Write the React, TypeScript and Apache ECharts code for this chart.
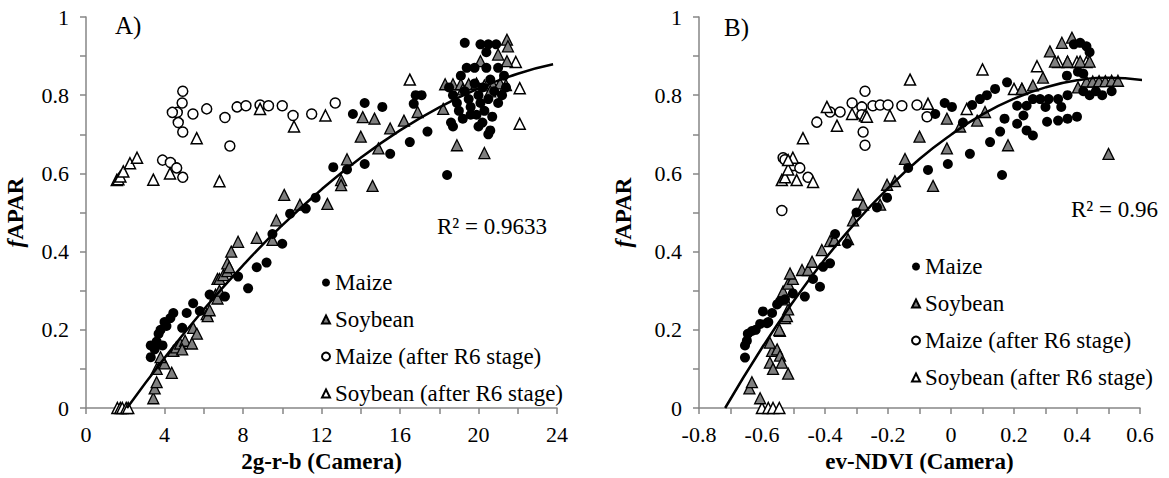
import React, { useEffect, useRef } from "react";
import * as echarts from "echarts";

const FONT = "'Liberation Serif', 'Times New Roman', serif";

// ---- Panel A: 2g-r-b (Camera) ----
const leftMaize: number[][] = [
  [3.3, 0.16], [3.3, 0.13], [3.5, 0.15], [3.6, 0.17], [3.7, 0.19], [3.8, 0.2], [3.9, 0.16], [4.0, 0.22],
  [4.1, 0.21], [4.3, 0.23], [4.45, 0.243], [4.9, 0.205], [5.13, 0.243], [5.46, 0.268], [5.8, 0.248],
  [6.3, 0.29], [7.08, 0.285], [7.75, 0.336], [8.26, 0.306], [8.7, 0.36], [9.2, 0.372], [9.5, 0.445],
  [10.0, 0.42], [10.4, 0.497], [11.2, 0.51], [11.7, 0.538], [12.6, 0.616], [13.3, 0.61], [14.2, 0.624],
  [15.5, 0.65], [16.5, 0.68], [13.6, 0.752], [14.2, 0.78], [15.1, 0.77], [16.7, 0.778], [16.8, 0.8],
  [17.1, 0.8], [17.4, 0.707], [18.4, 0.596], [18.6, 0.73], [18.7, 0.72], [18.5, 0.82], [18.7, 0.8],
  [18.9, 0.78], [19.0, 0.76], [19.2, 0.74], [19.3, 0.81], [19.5, 0.79], [19.6, 0.77], [19.8, 0.83],
  [19.9, 0.75], [20.0, 0.8], [20.1, 0.78], [20.2, 0.82], [20.3, 0.76], [20.5, 0.79], [20.6, 0.84],
  [20.8, 0.81], [21.0, 0.78], [21.2, 0.8], [21.4, 0.82], [19.4, 0.87], [19.8, 0.87], [20.4, 0.87],
  [21.0, 0.87], [20.4, 0.91], [19.3, 0.934], [20.1, 0.93], [20.5, 0.93], [20.9, 0.93], [20.2, 0.73],
  [20.7, 0.745], [20.5, 0.7], [20.6, 0.71], [19.1, 0.85], [21.3, 0.85], [20.0, 0.72], [19.6, 0.75],
];
const leftSoy: number[][] = [
  [3.43, 0.025], [3.5, 0.05], [3.6, 0.066], [3.6, 0.1], [3.86, 0.117], [4.0, 0.114], [4.37, 0.09],
  [4.45, 0.146], [4.6, 0.155], [4.8, 0.165], [5.05, 0.172], [5.4, 0.165], [5.46, 0.205], [5.65, 0.19],
  [6.15, 0.24], [6.2, 0.235], [6.3, 0.25], [6.6, 0.29], [6.7, 0.28], [6.8, 0.3], [6.7, 0.33], [6.8, 0.33],
  [7.0, 0.34], [7.2, 0.35], [7.2, 0.37], [7.3, 0.36], [7.4, 0.4], [7.75, 0.425], [8.7, 0.435], [9.5, 0.43],
  [9.7, 0.48], [10.1, 0.545], [10.9, 0.52], [12.3, 0.522], [13.0, 0.583], [13.0, 0.57], [13.3, 0.636],
  [14.6, 0.568], [14.0, 0.694], [14.9, 0.664], [14.1, 0.744], [14.7, 0.74], [15.5, 0.715], [16.2, 0.735],
  [16.9, 0.757], [18.2, 0.765], [18.9, 0.672], [20.3, 0.652], [18.3, 0.828], [18.7, 0.828], [19.1, 0.828],
  [19.5, 0.828], [19.9, 0.83], [20.3, 0.825], [20.7, 0.83], [21.1, 0.83], [21.4, 0.826], [20.1, 0.887],
  [21.0, 0.904], [21.45, 0.942], [21.5, 0.925], [21.45, 0.887], [19.2, 0.815], [20.6, 0.81], [3.8, 0.13],
  [4.9, 0.15],
];
const leftMaizeR6: number[][] = [
  [4.93, 0.81], [4.9, 0.78], [4.65, 0.756], [4.4, 0.756], [4.7, 0.73], [4.93, 0.706], [5.45, 0.752],
  [6.15, 0.765], [7.08, 0.743], [7.33, 0.67], [7.7, 0.77], [8.15, 0.773], [8.87, 0.775], [9.3, 0.773],
  [10.0, 0.773], [10.55, 0.748], [11.5, 0.752], [12.7, 0.78], [3.9, 0.634], [4.3, 0.628], [4.62, 0.614],
  [4.93, 0.59],
];
const leftSoyR6: number[][] = [
  [1.57, 0.583], [1.65, 0.585], [1.75, 0.592], [1.9, 0.605], [2.24, 0.626], [2.6, 0.64], [3.43, 0.584],
  [4.28, 0.6], [5.64, 0.69], [6.8, 0.58], [8.87, 0.765], [10.6, 0.72], [12.2, 0.748], [16.5, 0.84],
  [22.1, 0.727], [22.1, 0.818], [21.9, 0.885], [1.6, 0], [1.75, 0], [1.85, 0], [2.05, 0], [2.15, 0],
];
const leftTrend: number[][] = [
  [2.09, 0], [4, 0.128], [6, 0.252], [8, 0.365], [10, 0.4675], [12, 0.559], [14, 0.64], [16, 0.71],
  [18, 0.769], [20, 0.817], [22, 0.855], [23.8, 0.879],
];

// ---- Panel B: ev-NDVI (Camera) ----
const rightMaize: number[][] = [
  [-0.654, 0.16], [-0.654, 0.129], [-0.648, 0.172], [-0.645, 0.19], [-0.632, 0.197], [-0.62, 0.2],
  [-0.606, 0.215], [-0.597, 0.247], [-0.584, 0.217], [-0.58, 0.22], [-0.568, 0.243], [-0.552, 0.265],
  [-0.543, 0.273], [-0.527, 0.278], [-0.502, 0.293], [-0.464, 0.285], [-0.438, 0.33], [-0.416, 0.31],
  [-0.406, 0.361], [-0.384, 0.37], [-0.368, 0.445], [-0.33, 0.42], [-0.3, 0.5], [-0.235, 0.513],
  [-0.203, 0.538], [-0.136, 0.614], [-0.073, 0.609], [-0.01, 0.624], [0.06, 0.65], [0.124, 0.68],
  [0.156, 0.707], [0.162, 0.596], [-0.05, 0.752], [-0.02, 0.78], [0.003, 0.77], [0.038, 0.73],
  [0.067, 0.775], [0.092, 0.79], [0.114, 0.8], [0.14, 0.816], [0.178, 0.833], [0.17, 0.74], [0.21, 0.727],
  [0.23, 0.748], [0.24, 0.71], [0.26, 0.697], [0.305, 0.732], [0.34, 0.735], [0.37, 0.74], [0.4, 0.745],
  [0.21, 0.773], [0.24, 0.773], [0.26, 0.79], [0.283, 0.79], [0.31, 0.79], [0.34, 0.79], [0.37, 0.8],
  [0.3, 0.77], [0.35, 0.77], [0.42, 0.81], [0.44, 0.8], [0.46, 0.81], [0.48, 0.8], [0.51, 0.81],
  [0.368, 0.85], [0.403, 0.86], [0.42, 0.855], [0.41, 0.934], [0.43, 0.925], [0.44, 0.91], [0.39, 0.93],
];
const rightSoy: number[][] = [
  [-0.64, 0.05], [-0.632, 0.066], [-0.606, 0.025], [-0.575, 0.116], [-0.568, 0.146], [-0.552, 0.15],
  [-0.543, 0.134], [-0.537, 0.116], [-0.565, 0.1], [-0.517, 0.088], [-0.575, 0.167], [-0.543, 0.197],
  [-0.545, 0.2], [-0.527, 0.23], [-0.521, 0.235], [-0.517, 0.252], [-0.527, 0.278], [-0.533, 0.298],
  [-0.517, 0.318], [-0.502, 0.33], [-0.511, 0.344], [-0.473, 0.353], [-0.454, 0.353], [-0.441, 0.374],
  [-0.41, 0.404], [-0.384, 0.427], [-0.37, 0.43], [-0.327, 0.432], [-0.311, 0.48], [-0.295, 0.546],
  [-0.279, 0.52], [-0.225, 0.52], [-0.203, 0.571], [-0.178, 0.58], [-0.146, 0.637], [-0.1, 0.694],
  [-0.057, 0.568], [-0.013, 0.664], [-0.013, 0.74], [0.029, 0.72], [0.083, 0.735], [0.108, 0.757],
  [0.181, 0.672], [0.225, 0.816], [0.26, 0.825], [0.292, 0.845], [0.403, 0.82], [0.5, 0.65],
  [0.43, 0.835], [0.45, 0.835], [0.47, 0.836], [0.49, 0.836], [0.51, 0.837], [0.53, 0.837],
  [0.314, 0.912], [0.352, 0.934], [0.384, 0.947], [0.33, 0.886], [0.37, 0.886], [0.41, 0.886], [0.44, 0.886],
];
const rightMaizeR6: number[][] = [
  [-0.537, 0.505], [-0.533, 0.64], [-0.527, 0.635], [-0.5, 0.62], [-0.48, 0.614], [-0.454, 0.59],
  [-0.426, 0.731], [-0.384, 0.757], [-0.352, 0.757], [-0.314, 0.78], [-0.283, 0.77], [-0.273, 0.81],
  [-0.283, 0.75], [-0.279, 0.706], [-0.273, 0.672], [-0.248, 0.773], [-0.225, 0.775], [-0.2, 0.775],
  [-0.156, 0.773], [-0.108, 0.775], [-0.076, 0.745],
];
const rightSoyR6: number[][] = [
  [-0.537, 0.583], [-0.527, 0.59], [-0.517, 0.61], [-0.502, 0.64], [-0.517, 0.634], [-0.49, 0.583],
  [-0.438, 0.578], [-0.47, 0.69], [-0.394, 0.77], [-0.362, 0.722], [-0.314, 0.752], [-0.273, 0.748],
  [-0.267, 0.745], [-0.194, 0.748], [-0.13, 0.84], [-0.073, 0.778], [0.05, 0.765], [0.1, 0.866],
  [0.273, 0.874], [0.2, 0.816], [0.225, 0.816], [0.34, 0.885], [0.37, 0.885], [0.4, 0.885], [0.43, 0.885],
  [-0.6, 0], [-0.58, 0], [-0.565, 0], [-0.545, 0],
];
const rightTrend: number[][] = [
  [-0.717, 0], [-0.6, 0.154], [-0.5, 0.273], [-0.4, 0.381], [-0.3, 0.477], [-0.2, 0.562], [-0.1, 0.637],
  [0, 0.699], [0.1, 0.751], [0.2, 0.791], [0.3, 0.82], [0.4, 0.838], [0.5, 0.8445], [0.616, 0.838],
];

const seriesNames = ["Maize", "Soybean", "Maize (after R6 stage)", "Soybean (after R6 stage)"];
const r2Left = "R² = 0.9633";
const r2Right = "R² = 0.96";

const AXIS_COLOR = "#868686";

function xAxisCfg(gridIndex: number, min: number, max: number, interval: number, name: string, step: number) {
  return {
    gridIndex,
    type: "value",
    min,
    max,
    interval,
    name,
    nameLocation: "middle",
    nameGap: 42,
    nameTextStyle: { fontFamily: FONT, fontWeight: "bold", fontSize: 23, color: "#000" },
    axisLine: { show: true, onZero: false, lineStyle: { color: AXIS_COLOR, width: 1.5 } },
    axisTick: { show: true, length: 6, lineStyle: { color: AXIS_COLOR, width: 1.5 } },
    axisLabel: {
      fontFamily: FONT,
      fontSize: 22,
      color: "#000",
      margin: 15,
      formatter: (v: number) => (Math.abs(Math.round(v / interval)) % step === 0 ? String(Math.round(v * 1000) / 1000) : ""),
    },
    splitLine: { show: false },
  };
}

function yAxisCfg(gridIndex: number, nameGap: number) {
  return {
    gridIndex,
    type: "value",
    min: 0,
    max: 1,
    interval: 0.1,
    name: "{i|f}APAR",
    nameLocation: "middle",
    nameGap,
    nameTextStyle: {
      fontFamily: FONT,
      fontWeight: "bold",
      fontSize: 23,
      color: "#000",
      rich: { i: { fontFamily: FONT, fontStyle: "italic", fontWeight: "bold", fontSize: 23, color: "#000" } },
    },
    axisLine: { show: true, onZero: false, lineStyle: { color: AXIS_COLOR, width: 1.5 } },
    axisTick: { show: true, length: 6, lineStyle: { color: AXIS_COLOR, width: 1.5 } },
    axisLabel: {
      fontFamily: FONT,
      fontSize: 22,
      color: "#000",
      margin: 17,
      formatter: (v: number) => (Math.round(v * 10) % 2 === 0 ? String(Math.round(v * 10) / 10) : ""),
    },
    splitLine: { show: false },
  };
}

function scatterSeries(idx: number, data: number[][], kind: number) {
  const styles = [
    { symbol: "circle", itemStyle: { color: "#000", borderColor: "#000", borderWidth: 0, opacity: 1 } },
    { symbol: "triangle", itemStyle: { color: "#7f7f7f", borderColor: "#000", borderWidth: 1.3, opacity: 1 } },
    { symbol: "circle", itemStyle: { color: "#fff", borderColor: "#000", borderWidth: 1.5, opacity: 1 } },
    { symbol: "triangle", itemStyle: { color: "#fff", borderColor: "#000", borderWidth: 1.5, opacity: 1 } },
  ];
  return {
    type: "scatter",
    name: seriesNames[kind],
    xAxisIndex: idx,
    yAxisIndex: idx,
    data,
    symbol: styles[kind].symbol,
    symbolSize: kind === 1 || kind === 3 ? 11 : 10,
    itemStyle: styles[kind].itemStyle,
    z: 2,
  };
}

function trendSeries(idx: number, data: number[][]) {
  return {
    type: "line",
    name: "trend" + idx,
    xAxisIndex: idx,
    yAxisIndex: idx,
    data,
    smooth: true,
    showSymbol: false,
    symbol: "none",
    lineStyle: { color: "#000", width: 2.5 },
    z: 3,
  };
}

function legendCfg(left: number, top: number) {
  return {
    data: seriesNames,
    orient: "vertical",
    left,
    top,
    padding: 0,
    itemWidth: 8,
    itemHeight: 8,
    itemGap: 14,
    selectedMode: false,
    textStyle: { fontFamily: FONT, fontSize: 23, color: "#000", lineHeight: 23, padding: [0, 0, 0, 0] },
  };
}

export default function App() {
  const ref = useRef<HTMLDivElement>(null);
  useEffect(() => {
    document.body.style.margin = "0";
    if (!ref.current) return;
    const chart = echarts.init(ref.current, null, { renderer: "svg" });
    chart.setOption({
      animation: false,
      backgroundColor: "#fff",
      grid: [
        { left: 86, top: 17, width: 471, height: 396 },
        { left: 699, top: 17, width: 441, height: 396 },
      ],
      xAxis: [
        xAxisCfg(0, 0, 24, 2, "2g-r-b (Camera)", 2),
        xAxisCfg(1, -0.8, 0.6, 0.1, "ev-NDVI (Camera)", 2),
      ],
      yAxis: [yAxisCfg(0, 59), yAxisCfg(1, 64)],
      legend: [legendCfg(321, 271), legendCfg(911, 255)],
      series: [
        scatterSeries(0, leftMaizeR6, 2),
        scatterSeries(0, leftSoyR6, 3),
        scatterSeries(0, leftSoy, 1),
        scatterSeries(0, leftMaize, 0),
        trendSeries(0, leftTrend),
        scatterSeries(1, rightMaizeR6, 2),
        scatterSeries(1, rightSoyR6, 3),
        scatterSeries(1, rightSoy, 1),
        scatterSeries(1, rightMaize, 0),
        trendSeries(1, rightTrend),
      ],
      graphic: [
        { type: "text", left: 115, top: 13, style: { text: "A)", fontFamily: FONT, fontSize: 25, fill: "#000" } },
        { type: "text", left: 724, top: 15, style: { text: "B)", fontFamily: FONT, fontSize: 25, fill: "#000" } },
        { type: "text", left: 437, top: 215, style: { text: r2Left, fontFamily: FONT, fontSize: 23, fill: "#000" } },
        { type: "text", left: 1071, top: 198, style: { text: r2Right, fontFamily: FONT, fontSize: 23, fill: "#000" } },
      ],
    });
    return () => chart.dispose();
  }, []);
  return <div ref={ref} style={{ width: 1169, height: 478 }} />;
}
